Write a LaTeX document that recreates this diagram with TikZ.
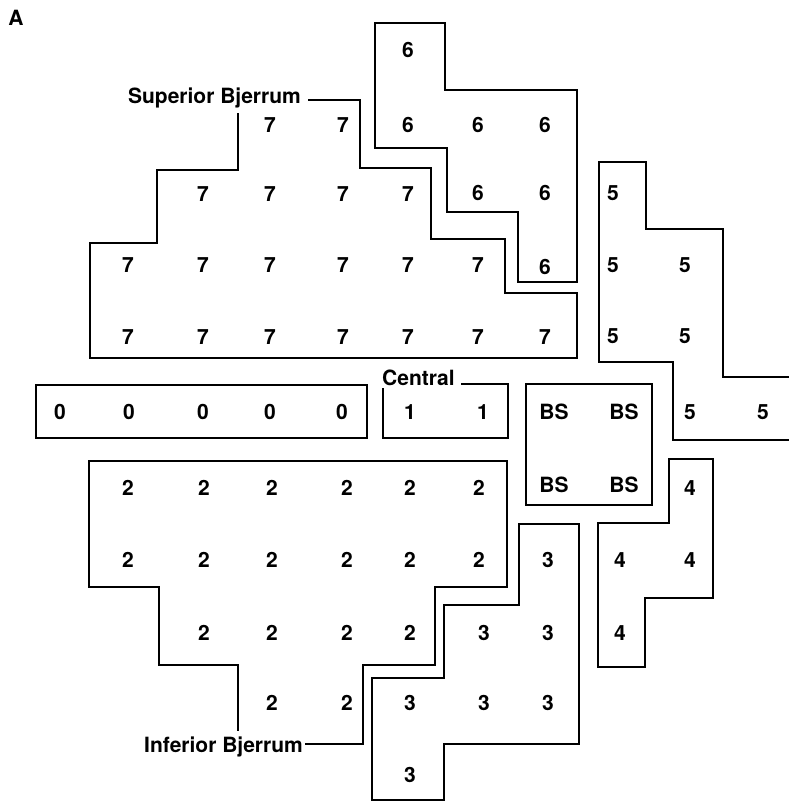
\documentclass[tikz,border=0pt]{standalone}
\usepackage{fontspec}
\setmainfont{TeX Gyre Heros}

\begin{document}
\begin{tikzpicture}[x=1pt,y=-1pt,
    num/.style={font=\bfseries\fontsize{21}{21}\selectfont,inner sep=0pt},
    lbl/.style={font=\bfseries\fontsize{21}{21}\selectfont,inner sep=0pt},
    zone/.style={draw,line width=1.3pt,line join=miter}]

      \useasboundingbox (0,0) rectangle (788,801);

      \node[lbl] (tag) at (16,18) {A};
      \node[lbl,anchor=base east] (supbj) at (301,103) {Superior Bjerrum};
      \node[lbl,anchor=base east] (infbj) at (303,752) {Inferior Bjerrum};
      \node[lbl,anchor=base west] (cent) at (382,385) {Central};

      % zone 6
      \node[num] (s6a) at (408,50) {6};
      \foreach \x [count=\i] in {408,478,545} \node[num] (s6b\i) at (\x,125) {6};
      \foreach \x [count=\i] in {478,545} \node[num] (s6c\i) at (\x,193) {6};
      \node[num] (s6d) at (545,267) {6};

      % zone 7
      \foreach \x [count=\i] in {270,343} \node[num] (s7a\i) at (\x,125) {7};
      \foreach \x [count=\i] in {203,270,343,408} \node[num] (s7b\i) at (\x,194) {7};
      \foreach \x [count=\i] in {128,203,270,343,408,478} \node[num] (s7c\i) at (\x,265) {7};
      \foreach \x [count=\i] in {128,203,270,343,408,478,545} \node[num] (s7d\i) at (\x,337) {7};

      % zone 5
      \node[num] (s5a) at (613,193) {5};
      \foreach \x [count=\i] in {613,685} \node[num] (s5b\i) at (\x,265) {5};
      \foreach \x [count=\i] in {613,685} \node[num] (s5c\i) at (\x,336) {5};
      \foreach \x [count=\i] in {690,763} \node[num] (s5d\i) at (\x,412) {5};

      % zones 0, 1 and blind spot
      \foreach \x [count=\i] in {60,129,203,270,342} \node[num] (s0\i) at (\x,412) {0};
      \foreach \x [count=\i] in {410,483} \node[num] (s1\i) at (\x,412) {1};
      \node[num] (bs1) at (554,412) {BS};
      \node[num] (bs2) at (624,412) {BS};
      \node[num] (bs3) at (554,485) {BS};
      \node[num] (bs4) at (624,485) {BS};

      % zone 2
      \foreach \x [count=\i] in {128,204,272,347,410,479} \node[num] (s2a\i) at (\x,488) {2};
      \foreach \x [count=\i] in {128,204,272,347,410,479} \node[num] (s2b\i) at (\x,560) {2};
      \foreach \x [count=\i] in {204,272,347,410} \node[num] (s2c\i) at (\x,633) {2};
      \foreach \x [count=\i] in {272,347} \node[num] (s2d\i) at (\x,703) {2};

      % zone 3
      \node[num] (s3a) at (548,560) {3};
      \foreach \x [count=\i] in {484,548} \node[num] (s3b\i) at (\x,633) {3};
      \foreach \x [count=\i] in {410,484,548} \node[num] (s3c\i) at (\x,703) {3};
      \node[num] (s3d) at (410,775) {3};

      % zone 4
      \node[num] (s4a) at (690,488) {4};
      \foreach \x [count=\i] in {620,690} \node[num] (s4b\i) at (\x,560) {4};
      \node[num] (s4c) at (620,633) {4};

      % outlines
      \path[zone] (238,113) -- (238,170) -- (157,170) -- (157,243) -- (90,243) -- (90,358)
        -- (577,358) -- (577,293) -- (505,293) -- (505,239) -- (431,239) -- (431,168)
        -- (360,168) -- (360,100) -- (308,100);
      \path[zone] (375,23) -- (445,23) -- (445,90) -- (577,90) -- (577,282) -- (518,282)
        -- (518,212) -- (447,212) -- (447,148) -- (375,148) -- cycle;
      \path[zone] (790,377) -- (723,377) -- (723,229) -- (646,229) -- (646,162) -- (599,162)
        -- (599,362) -- (673,362) -- (673,440) -- (790,440);
      \path[zone] (36,385) rectangle (367,438);
      \path[zone] (383,388) -- (383,438) -- (508,438) -- (508,384) -- (461,384);
      \path[zone] (526,384) rectangle (652,505);
      \path[zone] (305,744) -- (363,744) -- (363,665) -- (435,665) -- (435,587) -- (507,587)
        -- (507,461) -- (89,461) -- (89,587) -- (159,587) -- (159,665) -- (238,665) -- (238,731);
      \path[zone] (519,524) -- (579,524) -- (579,744) -- (444,744) -- (444,800) -- (372,800)
        -- (372,678) -- (444,678) -- (444,605) -- (519,605) -- cycle;
      \path[zone] (669,459) -- (713,459) -- (713,598) -- (645,598) -- (645,667) -- (598,667)
        -- (598,523) -- (669,523) -- cycle;

\end{tikzpicture}
\end{document}
